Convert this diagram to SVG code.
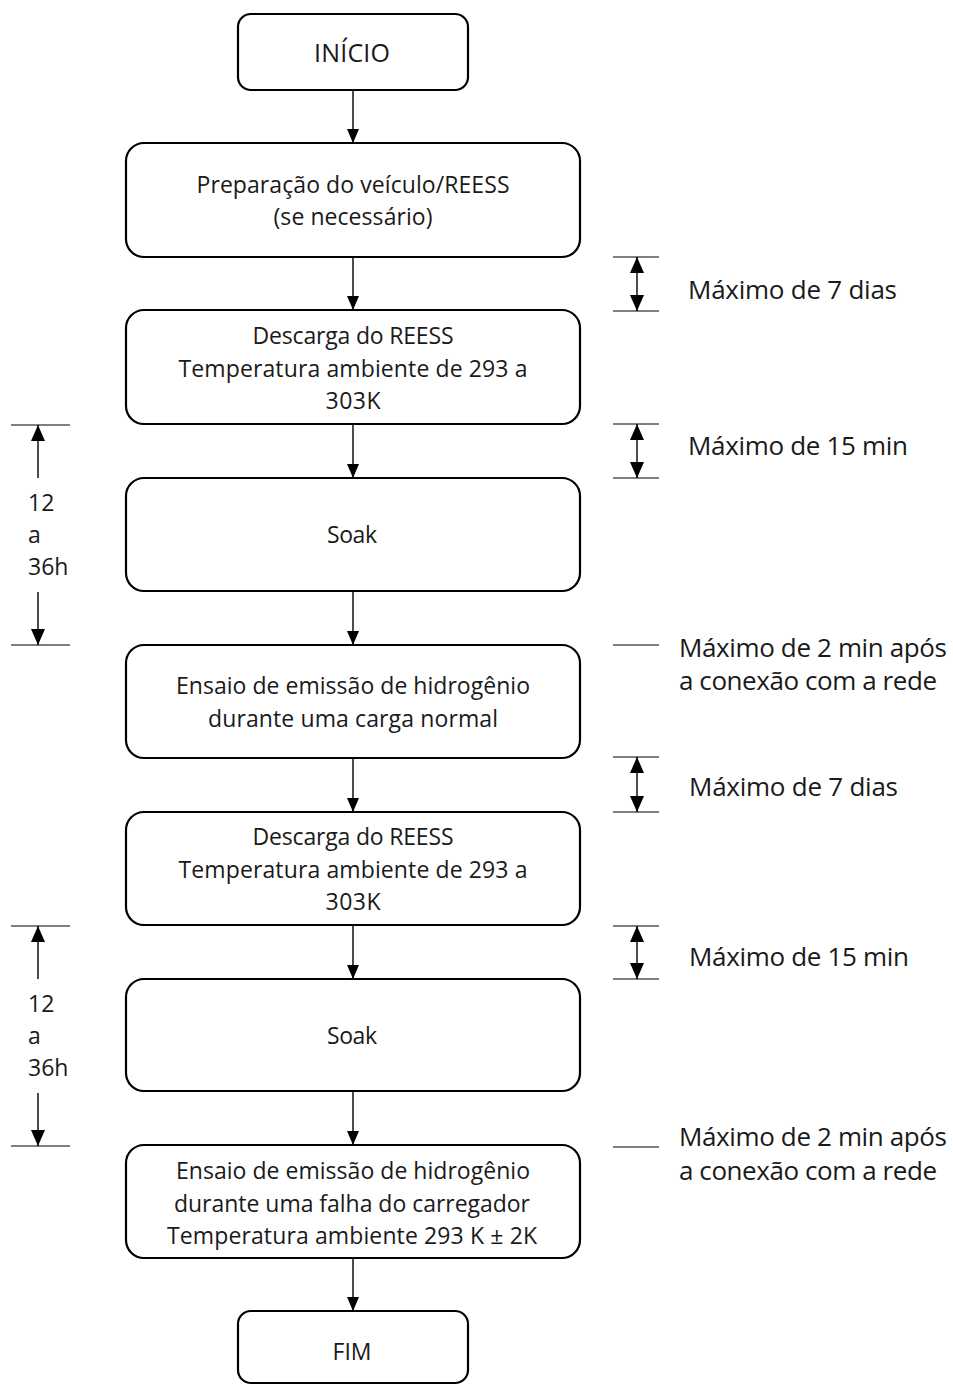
<svg xmlns="http://www.w3.org/2000/svg" width="953" height="1385" viewBox="0 0 953 1385">
<style>
.box{fill:#fff;stroke:#000;stroke-width:2.2}
.t{font-family:"Open Sans","Noto Sans","Liberation Sans",sans-serif;font-size:23px;fill:#1a1a1a;text-anchor:middle}
.big{font-size:25px}
.s{font-family:"Open Sans","Noto Sans","Liberation Sans",sans-serif;font-size:26px;fill:#1a1a1a}
.l{font-family:"Open Sans","Noto Sans","Liberation Sans",sans-serif;font-size:23px;fill:#1a1a1a}
.c{stroke:#000;stroke-width:1.4;fill:none}
.tick{stroke:#000;stroke-width:1.2}
</style>
<defs>
<marker id="ah" viewBox="0 0 14 12" refX="14" refY="6" markerWidth="14" markerHeight="12" markerUnits="userSpaceOnUse" orient="auto"><path d="M0,0 L14,6 L0,12 z" fill="#000"/></marker>
<marker id="dh" viewBox="0 0 16 14" refX="16" refY="7" markerWidth="16" markerHeight="14" markerUnits="userSpaceOnUse" orient="auto-start-reverse"><path d="M0,0 L16,7 L0,14 z" fill="#000"/></marker>
</defs>

<g id="n1"><rect class="box" x="238" y="14" width="230" height="76" rx="13"/><text class="t big" x="352" y="62" textLength="76">INÍCIO</text></g>
<g id="n2"><rect class="box" x="126" y="143" width="454" height="114" rx="18"/><text class="t" x="353" y="193" textLength="313">Preparação do veículo/REESS</text><text class="t" x="353" y="225" textLength="159">(se necessário)</text></g>
<g id="n3"><rect class="box" x="126" y="310" width="454" height="114" rx="18"/><text class="t" x="353" y="344" textLength="201">Descarga do REESS</text><text class="t" x="353" y="377" textLength="349">Temperatura ambiente de 293 a</text><text class="t" x="353" y="409" textLength="55">303K</text></g>
<g id="n4"><rect class="box" x="126" y="478" width="454" height="113" rx="18"/><text class="t" x="352" y="543" textLength="50">Soak</text></g>
<g id="n5"><rect class="box" x="126" y="645" width="454" height="113" rx="18"/><text class="t" x="353" y="694" textLength="354">Ensaio de emissão de hidrogênio</text><text class="t" x="353" y="727" textLength="290">durante uma carga normal</text></g>
<g id="n6"><rect class="box" x="126" y="812" width="454" height="113" rx="18"/><text class="t" x="353" y="845" textLength="201">Descarga do REESS</text><text class="t" x="353" y="878" textLength="349">Temperatura ambiente de 293 a</text><text class="t" x="353" y="910" textLength="55">303K</text></g>
<g id="n7"><rect class="box" x="126" y="979" width="454" height="112" rx="18"/><text class="t" x="352" y="1044" textLength="50">Soak</text></g>
<g id="n8"><rect class="box" x="126" y="1145" width="454" height="113" rx="18"/><text class="t" x="353" y="1179" textLength="354">Ensaio de emissão de hidrogênio</text><text class="t" x="352" y="1212" textLength="356">durante uma falha do carregador</text><text class="t" x="352" y="1244" textLength="370">Temperatura ambiente 293 K ± 2K</text></g>
<g id="n9"><rect class="box" x="238" y="1311" width="230" height="72" rx="13"/><text class="t" x="352" y="1360" textLength="39">FIM</text></g>

<g id="connectors">
<line class="c" x1="353" y1="90" x2="353" y2="143" marker-end="url(#ah)"/>
<line class="c" x1="353" y1="257" x2="353" y2="310" marker-end="url(#ah)"/>
<line class="c" x1="353" y1="424" x2="353" y2="478" marker-end="url(#ah)"/>
<line class="c" x1="353" y1="591" x2="353" y2="645" marker-end="url(#ah)"/>
<line class="c" x1="353" y1="758" x2="353" y2="812" marker-end="url(#ah)"/>
<line class="c" x1="353" y1="925" x2="353" y2="979" marker-end="url(#ah)"/>
<line class="c" x1="353" y1="1091" x2="353" y2="1145" marker-end="url(#ah)"/>
<line class="c" x1="353" y1="1258" x2="353" y2="1311" marker-end="url(#ah)"/>
</g>

<g id="right-markers">
<line class="tick" x1="613" y1="257" x2="659" y2="257"/><line class="tick" x1="613" y1="311" x2="659" y2="311"/>
<line class="c" x1="637" y1="257" x2="637" y2="311" marker-start="url(#dh)" marker-end="url(#dh)"/>
<text class="s" x="688" y="299" textLength="209">Máximo de 7 dias</text>

<line class="tick" x1="613" y1="424" x2="659" y2="424"/><line class="tick" x1="613" y1="478" x2="659" y2="478"/>
<line class="c" x1="637" y1="424" x2="637" y2="478" marker-start="url(#dh)" marker-end="url(#dh)"/>
<text class="s" x="688" y="455" textLength="220">Máximo de 15 min</text>

<line class="tick" x1="613" y1="645" x2="659" y2="645"/>
<text class="s" x="679" y="657" textLength="268">Máximo de 2 min após</text>
<text class="s" x="679" y="690" textLength="258">a conexão com a rede</text>

<line class="tick" x1="613" y1="757" x2="659" y2="757"/><line class="tick" x1="613" y1="812" x2="659" y2="812"/>
<line class="c" x1="637" y1="757" x2="637" y2="812" marker-start="url(#dh)" marker-end="url(#dh)"/>
<text class="s" x="689" y="796" textLength="209">Máximo de 7 dias</text>

<line class="tick" x1="613" y1="926" x2="659" y2="926"/><line class="tick" x1="613" y1="979" x2="659" y2="979"/>
<line class="c" x1="637" y1="926" x2="637" y2="979" marker-start="url(#dh)" marker-end="url(#dh)"/>
<text class="s" x="689" y="966" textLength="220">Máximo de 15 min</text>

<line class="tick" x1="613" y1="1147" x2="659" y2="1147"/>
<text class="s" x="679" y="1146" textLength="268">Máximo de 2 min após</text>
<text class="s" x="679" y="1180" textLength="258">a conexão com a rede</text>
</g>

<g id="left-markers">
<line class="tick" x1="11" y1="425" x2="70" y2="425"/><line class="tick" x1="11" y1="645" x2="70" y2="645"/>
<line class="c" x1="38" y1="478" x2="38" y2="425" marker-end="url(#dh)"/>
<line class="c" x1="38" y1="592" x2="38" y2="645" marker-end="url(#dh)"/>
<text class="l" x="28" y="511">12</text><text class="l" x="28" y="543">a</text><text class="l" x="28" y="575">36h</text>

<line class="tick" x1="11" y1="926" x2="70" y2="926"/><line class="tick" x1="11" y1="1146" x2="70" y2="1146"/>
<line class="c" x1="38" y1="979" x2="38" y2="926" marker-end="url(#dh)"/>
<line class="c" x1="38" y1="1093" x2="38" y2="1146" marker-end="url(#dh)"/>
<text class="l" x="28" y="1012">12</text><text class="l" x="28" y="1044">a</text><text class="l" x="28" y="1076">36h</text>
</g>
</svg>
